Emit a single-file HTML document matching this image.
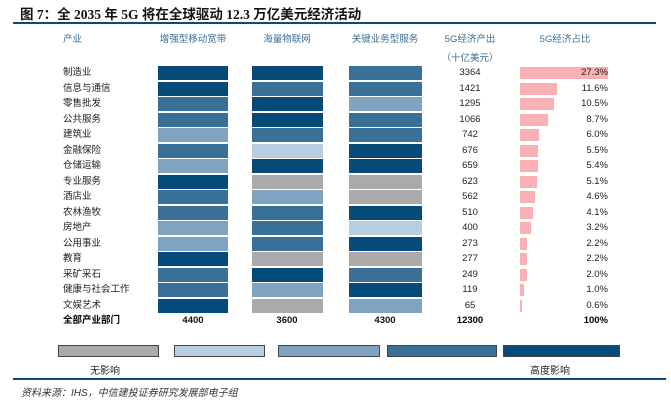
<!DOCTYPE html>
<html><head><meta charset="utf-8"><style>
*{margin:0;padding:0;box-sizing:border-box}
body{width:671px;height:408px;background:#fff;position:relative;overflow:hidden;font-family:"Liberation Sans","Noto Sans CJK SC",sans-serif;}
.a{position:absolute}
.t{font-size:13.5px;font-weight:bold;font-family:"Liberation Serif","Noto Sans CJK SC",serif;left:20px;top:3px;color:#111;white-space:nowrap}
.hd{font-size:9.5px;color:#3a6f98;white-space:nowrap;text-align:center}
.lb{font-size:9.5px;color:#222;left:63px;white-space:nowrap;line-height:14px}
.c{height:14px;width:70px}
.n{font-size:9.5px;color:#222;width:60px;left:440px;text-align:center;line-height:14px}
.p{font-size:9.5px;color:#222;width:60px;left:548px;text-align:right;line-height:14px}
.pk{background:#f9b0b4;left:520px;height:12px}
.g{background:#aaaaaa}.l2{background:#b8cde0}.l3{background:#7fa3c0}.l4{background:#3a6f98}.l5{background:#064a7a}
.lg{height:12px;top:345px;border:1px solid #444}
</style></head><body>
<div class="a t">图 7：全 2035 年 5G 将在全球驱动 12.3 万亿美元经济活动</div>
<div class="a" style="left:13px;top:22px;width:643px;height:2px;background:#0d4a78"></div>
<div class="a hd" style="left:63px;top:31px">产业</div>
<div class="a hd" style="left:138px;top:31px;width:110px">增强型移动宽带</div>
<div class="a hd" style="left:232px;top:31px;width:110px">海量物联网</div>
<div class="a hd" style="left:330px;top:31px;width:110px">关键业务型服务</div>
<div class="a hd" style="left:440px;top:31px;width:60px">5G经济产出</div>
<div class="a hd" style="left:440px;top:50px;width:60px">（十亿美元）</div>
<div class="a hd" style="left:520px;top:31px;width:90px">5G经济占比</div>

<div class="a lb" style="top:66px">制造业</div><div class="a lb" style="top:81.5px">信息与通信</div><div class="a lb" style="top:97px">零售批发</div><div class="a lb" style="top:112.5px">公共服务</div><div class="a lb" style="top:128px">建筑业</div><div class="a lb" style="top:143.5px">金融保险</div><div class="a lb" style="top:159px">仓储运输</div><div class="a lb" style="top:174.5px">专业服务</div><div class="a lb" style="top:190px">酒店业</div><div class="a lb" style="top:205.5px">农林渔牧</div><div class="a lb" style="top:221px">房地产</div><div class="a lb" style="top:236.5px">公用事业</div><div class="a lb" style="top:252px">教育</div><div class="a lb" style="top:267.5px">采矿采石</div><div class="a lb" style="top:283px">健康与社会工作</div><div class="a lb" style="top:298.5px">文娱艺术</div>
<div class="a lb" style="top:314px;font-weight:bold;color:#000">全部产业部门</div>

<div class="a c l5" style="left:158px;top:66px"></div><div class="a c l5" style="left:158px;top:81.5px"></div><div class="a c l4" style="left:158px;top:97px"></div><div class="a c l4" style="left:158px;top:112.5px"></div><div class="a c l3" style="left:158px;top:128px"></div><div class="a c l4" style="left:158px;top:143.5px"></div><div class="a c l3" style="left:158px;top:159px"></div><div class="a c l5" style="left:158px;top:174.5px"></div><div class="a c l4" style="left:158px;top:190px"></div><div class="a c l4" style="left:158px;top:205.5px"></div><div class="a c l3" style="left:158px;top:221px"></div><div class="a c l3" style="left:158px;top:236.5px"></div><div class="a c l5" style="left:158px;top:252px"></div><div class="a c l4" style="left:158px;top:267.5px"></div><div class="a c l4" style="left:158px;top:283px"></div><div class="a c l5" style="left:158px;top:298.5px"></div>

<div class="a c l5" style="left:252px;top:66px;width:71px"></div><div class="a c l4" style="left:252px;top:81.5px;width:71px"></div><div class="a c l5" style="left:252px;top:97px;width:71px"></div><div class="a c l5" style="left:252px;top:112.5px;width:71px"></div><div class="a c l4" style="left:252px;top:128px;width:71px"></div><div class="a c l2" style="left:252px;top:143.5px;width:71px"></div><div class="a c l5" style="left:252px;top:159px;width:71px"></div><div class="a c g" style="left:252px;top:174.5px;width:71px"></div><div class="a c l3" style="left:252px;top:190px;width:71px"></div><div class="a c l4" style="left:252px;top:205.5px;width:71px"></div><div class="a c l4" style="left:252px;top:221px;width:71px"></div><div class="a c l4" style="left:252px;top:236.5px;width:71px"></div><div class="a c g" style="left:252px;top:252px;width:71px"></div><div class="a c l5" style="left:252px;top:267.5px;width:71px"></div><div class="a c l3" style="left:252px;top:283px;width:71px"></div><div class="a c g" style="left:252px;top:298.5px;width:71px"></div>

<div class="a c l4" style="left:349px;top:66px;width:73px"></div><div class="a c l4" style="left:349px;top:81.5px;width:73px"></div><div class="a c l3" style="left:349px;top:97px;width:73px"></div><div class="a c l4" style="left:349px;top:112.5px;width:73px"></div><div class="a c l4" style="left:349px;top:128px;width:73px"></div><div class="a c l5" style="left:349px;top:143.5px;width:73px"></div><div class="a c l5" style="left:349px;top:159px;width:73px"></div><div class="a c g" style="left:349px;top:174.5px;width:73px"></div><div class="a c g" style="left:349px;top:190px;width:73px"></div><div class="a c l5" style="left:349px;top:205.5px;width:73px"></div><div class="a c l2" style="left:349px;top:221px;width:73px"></div><div class="a c l5" style="left:349px;top:236.5px;width:73px"></div><div class="a c g" style="left:349px;top:252px;width:73px"></div><div class="a c l4" style="left:349px;top:267.5px;width:73px"></div><div class="a c l5" style="left:349px;top:283px;width:73px"></div><div class="a c l3" style="left:349px;top:298.5px;width:73px"></div>

<div class="a hd" style="left:138px;top:315px;width:110px;color:#111;font-weight:bold">4400</div>
<div class="a hd" style="left:232px;top:315px;width:110px;color:#111;font-weight:bold">3600</div>
<div class="a hd" style="left:330px;top:315px;width:110px;color:#111;font-weight:bold">4300</div>

<div class="a n" style="top:66px">3364</div><div class="a n" style="top:81.5px">1421</div><div class="a n" style="top:97px">1295</div><div class="a n" style="top:112.5px">1066</div><div class="a n" style="top:128px">742</div><div class="a n" style="top:143.5px">676</div><div class="a n" style="top:159px">659</div><div class="a n" style="top:174.5px">623</div><div class="a n" style="top:190px">562</div><div class="a n" style="top:205.5px">510</div><div class="a n" style="top:221px">400</div><div class="a n" style="top:236.5px">273</div><div class="a n" style="top:252px">277</div><div class="a n" style="top:267.5px">249</div><div class="a n" style="top:283px">119</div><div class="a n" style="top:298.5px">65</div>
<div class="a n" style="top:314px;font-weight:bold;color:#000">12300</div>

<div class="a pk" style="top:67px;width:88px"></div><div class="a pk" style="top:82.5px;width:37px"></div><div class="a pk" style="top:98px;width:34px"></div><div class="a pk" style="top:113.5px;width:28px"></div><div class="a pk" style="top:129px;width:19px"></div><div class="a pk" style="top:144.5px;width:17.5px"></div><div class="a pk" style="top:160px;width:17.5px"></div><div class="a pk" style="top:175.5px;width:16.5px"></div><div class="a pk" style="top:191px;width:15px"></div><div class="a pk" style="top:206.5px;width:13px"></div><div class="a pk" style="top:222px;width:10.5px"></div><div class="a pk" style="top:237.5px;width:7px"></div><div class="a pk" style="top:253px;width:7px"></div><div class="a pk" style="top:268.5px;width:6.5px"></div><div class="a pk" style="top:284px;width:3.5px"></div><div class="a pk" style="top:299.5px;width:2px"></div>

<div class="a p" style="top:66px">27.3%</div><div class="a p" style="top:81.5px">11.6%</div><div class="a p" style="top:97px">10.5%</div><div class="a p" style="top:112.5px">8.7%</div><div class="a p" style="top:128px">6.0%</div><div class="a p" style="top:143.5px">5.5%</div><div class="a p" style="top:159px">5.4%</div><div class="a p" style="top:174.5px">5.1%</div><div class="a p" style="top:190px">4.6%</div><div class="a p" style="top:205.5px">4.1%</div><div class="a p" style="top:221px">3.2%</div><div class="a p" style="top:236.5px">2.2%</div><div class="a p" style="top:252px">2.2%</div><div class="a p" style="top:267.5px">2.0%</div><div class="a p" style="top:283px">1.0%</div><div class="a p" style="top:298.5px">0.6%</div>
<div class="a p" style="top:314px;font-weight:bold;color:#000">100%</div>

<div class="a lg g" style="left:58px;width:101px"></div>
<div class="a lg l2" style="left:174px;width:91px"></div>
<div class="a lg l3" style="left:278px;width:102px"></div>
<div class="a lg l4" style="left:387px;width:110px"></div>
<div class="a lg l5" style="left:503px;width:117px"></div>
<div class="a" style="left:90px;top:362px;font-size:10px;color:#222">无影响</div>
<div class="a" style="left:530px;top:362px;font-size:10px;color:#222">高度影响</div>
<div class="a" style="left:13px;top:378px;width:653px;height:2px;background:#0d4a78"></div>
<div class="a" style="left:21px;top:384px;font-size:10px;font-style:italic;color:#333;white-space:nowrap">资料来源：IHS，中信建投证券研究发展部电子组</div>
</body></html>
